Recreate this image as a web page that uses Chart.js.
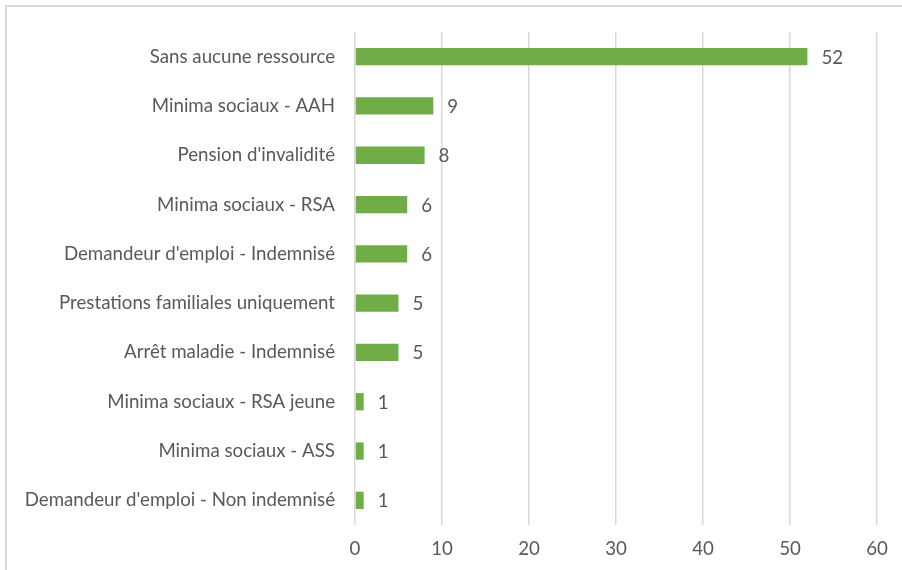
<!DOCTYPE html>
<html>
<head>
<meta charset="utf-8">
<script src="https://cdn.jsdelivr.net/npm/chart.js@4/dist/chart.umd.min.js"></script>
<style>
  html, body { margin: 0; padding: 0; background: #fff; }
  #wrap { position: relative; width: 902px; height: 570px; }
</style>
</head>
<body>
<div id="wrap"><canvas id="ressources" width="902" height="570"></canvas></div>
<script>
// Data
const categories = [
  "Sans aucune ressource",
  "Minima sociaux - AAH",
  "Pension d'invalidité",
  "Minima sociaux - RSA",
  "Demandeur d'emploi - Indemnisé",
  "Prestations familiales uniquement",
  "Arrêt maladie - Indemnisé",
  "Minima sociaux - RSA jeune",
  "Minima sociaux - ASS",
  "Demandeur d'emploi - Non indemnisé"
];
const counts = [52, 9, 8, 6, 6, 5, 5, 1, 1, 1];
const xTicks = [0, 10, 20, 30, 40, 50, 60];

const textColor = "#595959";
const gridColor = "#d9d9d9";
const fontFamily = "Lato, sans-serif";
const fontSize = 18.7;

// outer frame (top + left edge visible)
const framePlugin = {
  id: "frame",
  beforeDraw(chart) {
    const c = chart.ctx;
    c.save();
    c.strokeStyle = gridColor;
    c.lineWidth = 2;
    c.beginPath();
    c.moveTo(6, 600);
    c.lineTo(6, 6);
    c.lineTo(950, 6);
    c.stroke();
    c.restore();
  }
};

// value labels at bar ends
const valueLabels = {
  id: "valueLabels",
  afterDatasetsDraw(chart) {
    const c = chart.ctx;
    const meta = chart.getDatasetMeta(0);
    c.save();
    c.fillStyle = textColor;
    c.font = fontSize + "px " + fontFamily;
    c.textAlign = "left";
    c.textBaseline = "middle";
    meta.data.forEach((bar, i) => {
      c.fillText(counts[i], bar.x + 14, bar.y + 1);
    });
    c.restore();
  }
};

new Chart(document.getElementById("ressources"), {
  type: "bar",
  data: {
    labels: categories,
    datasets: [{
      data: counts,
      backgroundColor: "#70ad47",
      categoryPercentage: 1,
      barPercentage: 0.35
    }]
  },
  options: {
    indexAxis: "y",
    responsive: false,
    animation: false,
    layout: { padding: { left: 0, right: 25, top: 32, bottom: 0 } },
    plugins: {
      legend: { display: false },
      tooltip: { enabled: false }
    },
    scales: {
      x: {
        min: 0,
        max: 60,
        afterBuildTicks: (axis) => { axis.ticks = xTicks.map(v => ({ value: v })); },
        afterFit: (axis) => { axis.height = 45; },
        border: { display: false },
        grid: { color: gridColor, lineWidth: 1.5, drawTicks: false },
        ticks: { color: textColor, font: { family: fontFamily, size: fontSize }, padding: 13 }
      },
      y: {
        afterFit: (axis) => { axis.width = 355; },
        border: { display: false },
        grid: { display: false, drawTicks: false },
        ticks: { color: textColor, font: { family: fontFamily, size: fontSize }, padding: 20 }
      }
    }
  },
  plugins: [framePlugin, valueLabels]
});
</script>
</body>
</html>
